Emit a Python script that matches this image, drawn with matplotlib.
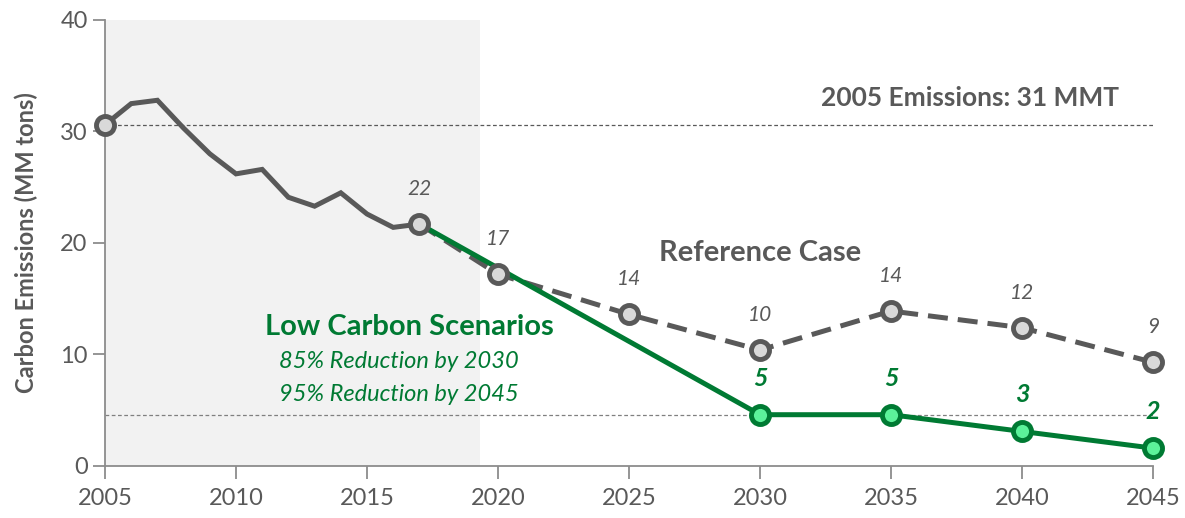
import matplotlib.pyplot as plt

plt.rcParams["font.family"] = ["Lato", "DejaVu Sans"]

# historic emissions (MM tons)
hist_years = [2005, 2006, 2007, 2008, 2009, 2010, 2011, 2012, 2013, 2014, 2015, 2016, 2017]
hist_values = [30.6, 32.5, 32.8, 30.3, 28.0, 26.2, 26.6, 24.1, 23.3, 24.5, 22.6, 21.4, 21.7]

# reference case projection
ref_years = [2017, 2020, 2025, 2030, 2035, 2040, 2045]
ref_values = [21.7, 17.2, 13.6, 10.4, 13.9, 12.4, 9.3]
ref_labels = ["22", "17", "14", "10", "14", "12", "9"]

# low carbon scenario
low_years = [2017, 2030, 2035, 2040, 2045]
low_values = [21.7, 4.6, 4.6, 3.1, 1.6]
low_label_years = [2030, 2035, 2040, 2045]
low_labels = ["5", "5", "3", "2"]

baseline_2005 = 30.6
target_85 = 4.6

GRAY = "#595959"
GREEN = "#007A33"

fig = plt.figure(figsize=(11.85, 5.18), dpi=100)
ax = fig.add_axes([0.0886, 0.1004, 0.8844, 0.861])

ax.axvspan(2005, 2019.3, color="#f2f2f2", zorder=0, lw=0)
ax.axhline(baseline_2005, color=GRAY, lw=0.9, ls=(0, (3, 2)), zorder=1)
ax.axhline(target_85, color="#808080", lw=0.9, ls=(0, (3, 2)), zorder=1)

ax.plot(hist_years, hist_values, color=GRAY, lw=3.6, zorder=3, solid_joinstyle="miter")
ax.plot(ref_years, ref_values, color=GRAY, lw=3.6, ls=(0, (4, 2)), zorder=2)
ax.plot(low_years, low_values, color=GREEN, lw=3.6, zorder=4)

ax.plot(low_years[1:], low_values[1:], ls="none", marker="o", ms=13,
        mfc="#5CF29A", mec=GREEN, mew=3.5, zorder=5, clip_on=False)
ax.plot(ref_years, ref_values, ls="none", marker="o", ms=13,
        mfc="#d9d9d9", mec=GRAY, mew=3.5, zorder=6, clip_on=False)
ax.plot([hist_years[0]], [hist_values[0]], ls="none", marker="o", ms=13,
        mfc="#d9d9d9", mec=GRAY, mew=3.5, zorder=6, clip_on=False)

for yr, val, lab in zip(ref_years, ref_values, ref_labels):
    ax.annotate(lab, (yr, val), xytext=(0, 18), textcoords="offset points",
                ha="center", va="bottom", fontsize=15, style="italic", color=GRAY)

for yr, lab in zip(low_label_years, low_labels):
    val = low_values[low_years.index(yr)]
    ax.annotate(lab, (yr, val), xytext=(0, 18), textcoords="offset points",
                ha="center", va="bottom", fontsize=18, style="italic",
                fontweight="bold", color=GREEN)

ax.text(2038.0, 33.0, "2005 Emissions: 31 MMT", ha="center", va="center",
        fontsize=19, fontweight="bold", color=GRAY)
ax.text(2030.0, 19.1, "Reference Case", ha="center", va="center",
        fontsize=21, fontweight="bold", color=GRAY)
ax.text(2016.6, 12.5, "Low Carbon Scenarios", ha="center", va="center",
        fontsize=21, fontweight="bold", color=GREEN)
ax.text(2016.2, 9.4, "85% Reduction by 2030", ha="center", va="center",
        fontsize=17, style="italic", color=GREEN)
ax.text(2016.2, 6.4, "95% Reduction by 2045", ha="center", va="center",
        fontsize=17, style="italic", color=GREEN)

ax.set_xlim(2005, 2045)
ax.set_ylim(0, 40)
ax.set_xticks(range(2005, 2046, 5))
ax.set_yticks(range(0, 41, 10))
ax.set_ylabel("Carbon Emissions (MM tons)", fontsize=17, fontweight="bold",
              color=GRAY, labelpad=16)

for side in ["top", "right"]:
    ax.spines[side].set_visible(False)
for side in ["left", "bottom"]:
    ax.spines[side].set_color("#8c8c8c")
    ax.spines[side].set_linewidth(1.3)
ax.tick_params(axis="both", colors="#8c8c8c", labelcolor=GRAY, labelsize=17,
               length=9, width=1.3, direction="out")
ax.tick_params(axis="x", pad=7)

fig.savefig("out.png", dpi=100)
